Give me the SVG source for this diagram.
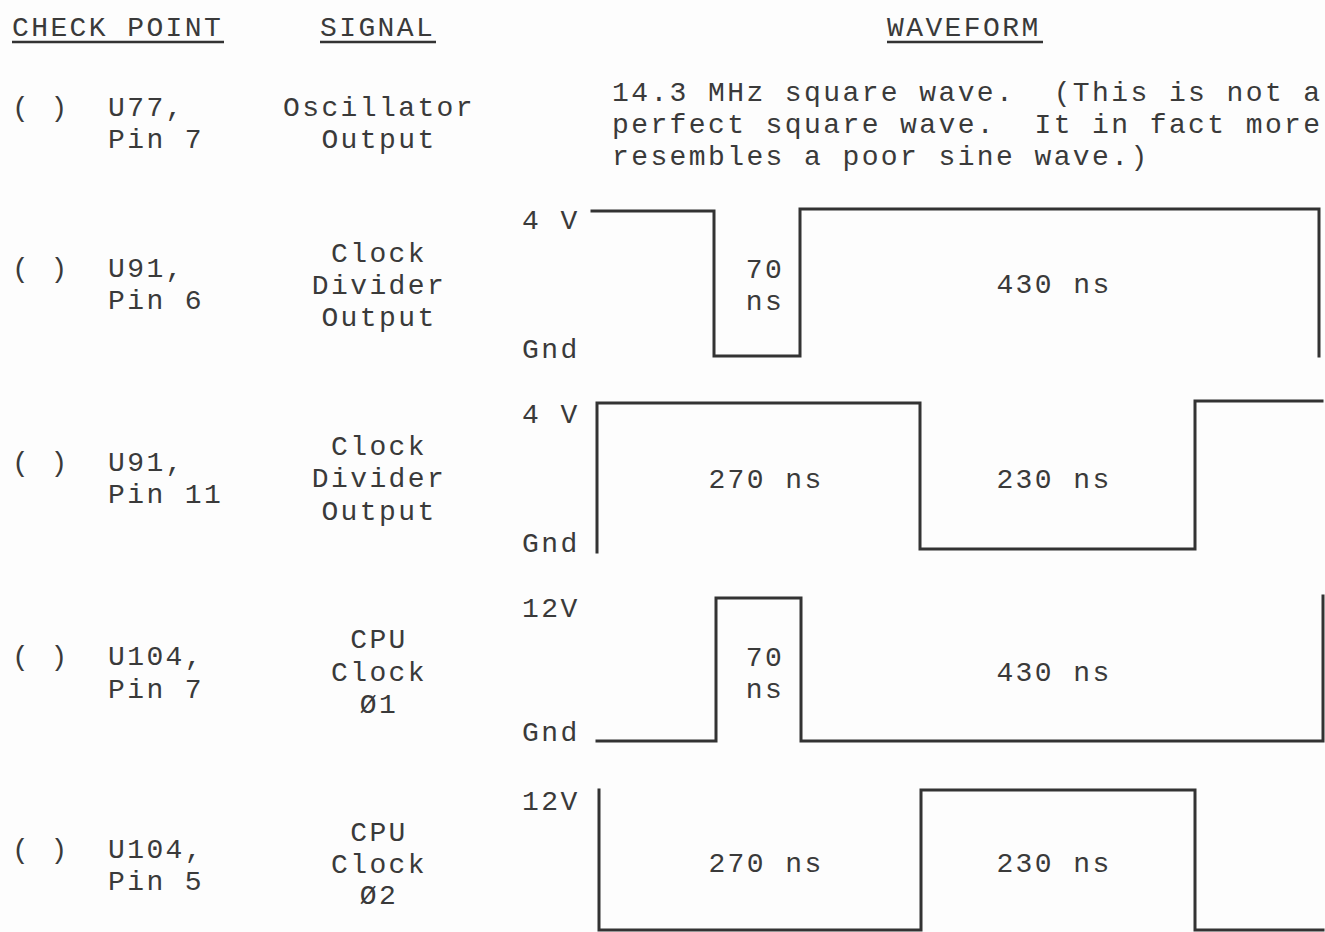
<svg xmlns="http://www.w3.org/2000/svg" width="1325" height="932" viewBox="0 0 1325 932">
<style>
text{font-family:"Liberation Mono","Courier New",monospace;font-size:28px;letter-spacing:2.4px;fill:#3a3a3a}
.c{text-anchor:middle}
.w{fill:none;stroke:#333;stroke-width:3;stroke-linecap:square}
.u{stroke:#333;stroke-width:2.5}
</style>
<rect width="1325" height="932" fill="#fdfdfd"/>
<g id="header">
<text x="12" y="36">CHECK POINT</text>
<text x="320" y="36">SIGNAL</text>
<text x="887" y="36">WAVEFORM</text>
<line class="u" x1="12" y1="42" x2="224" y2="42"/>
<line class="u" x1="320" y1="42" x2="436" y2="42"/>
<line class="u" x1="887" y1="42" x2="1043" y2="42"/>
</g>
<g id="row1">
<text x="12" y="116">( )</text>
<text x="108" y="116">U77,</text>
<text x="108" y="148">Pin 7</text>
<text class="c" x="379" y="116">Oscillator</text>
<text class="c" x="379" y="148">Output</text>
<text x="612" y="101" xml:space="preserve">14.3 MHz square wave.  (This is not a</text>
<text x="612" y="133" xml:space="preserve">perfect square wave.  It in fact more</text>
<text x="612" y="165">resembles a poor sine wave.)</text>
</g>
<g id="row2">
<text x="12" y="277">( )</text>
<text x="108" y="277">U91,</text>
<text x="108" y="309">Pin 6</text>
<text class="c" x="379" y="262">Clock</text>
<text class="c" x="379" y="294">Divider</text>
<text class="c" x="379" y="326">Output</text>
<text x="522" y="229">4 V</text>
<text x="522" y="358">Gnd</text>
<text class="c" x="765" y="278">70</text>
<text class="c" x="765" y="310">ns</text>
<text class="c" x="1054" y="293">430 ns</text>
</g>
<g id="row3">
<text x="12" y="471">( )</text>
<text x="108" y="471">U91,</text>
<text x="108" y="503">Pin 11</text>
<text class="c" x="379" y="455">Clock</text>
<text class="c" x="379" y="487">Divider</text>
<text class="c" x="379" y="520">Output</text>
<text x="522" y="423">4 V</text>
<text x="522" y="552">Gnd</text>
<text class="c" x="766" y="488">270 ns</text>
<text class="c" x="1054" y="488">230 ns</text>
</g>
<g id="row4">
<text x="12" y="665">( )</text>
<text x="108" y="665">U104,</text>
<text x="108" y="698">Pin 7</text>
<text class="c" x="379" y="648">CPU</text>
<text class="c" x="379" y="681">Clock</text>
<text class="c" x="379" y="713">Ø1</text>
<text x="522" y="617">12V</text>
<text x="522" y="741">Gnd</text>
<text class="c" x="765" y="666">70</text>
<text class="c" x="765" y="698">ns</text>
<text class="c" x="1054" y="681">430 ns</text>
</g>
<g id="row5">
<text x="12" y="858">( )</text>
<text x="108" y="858">U104,</text>
<text x="108" y="890">Pin 5</text>
<text class="c" x="379" y="841">CPU</text>
<text class="c" x="379" y="873">Clock</text>
<text class="c" x="379" y="904">Ø2</text>
<text x="522" y="810">12V</text>
<text class="c" x="766" y="872">270 ns</text>
<text class="c" x="1054" y="872">230 ns</text>
</g>
<g id="connectors">
<polyline class="w" points="592,211 714,211 714,356 800,356 800,209 1319,209 1319,356"/>
<polyline class="w" points="597,552 597,403 920,403 920,549 1195,549 1195,401 1322,401"/>
<polyline class="w" points="597,741 716,741 716,598 801,598 801,741 1323,741 1323,596"/>
<polyline class="w" points="599,790 599,930 921,930 921,790 1195,790 1195,930 1323,930"/>
</g>
</svg>
